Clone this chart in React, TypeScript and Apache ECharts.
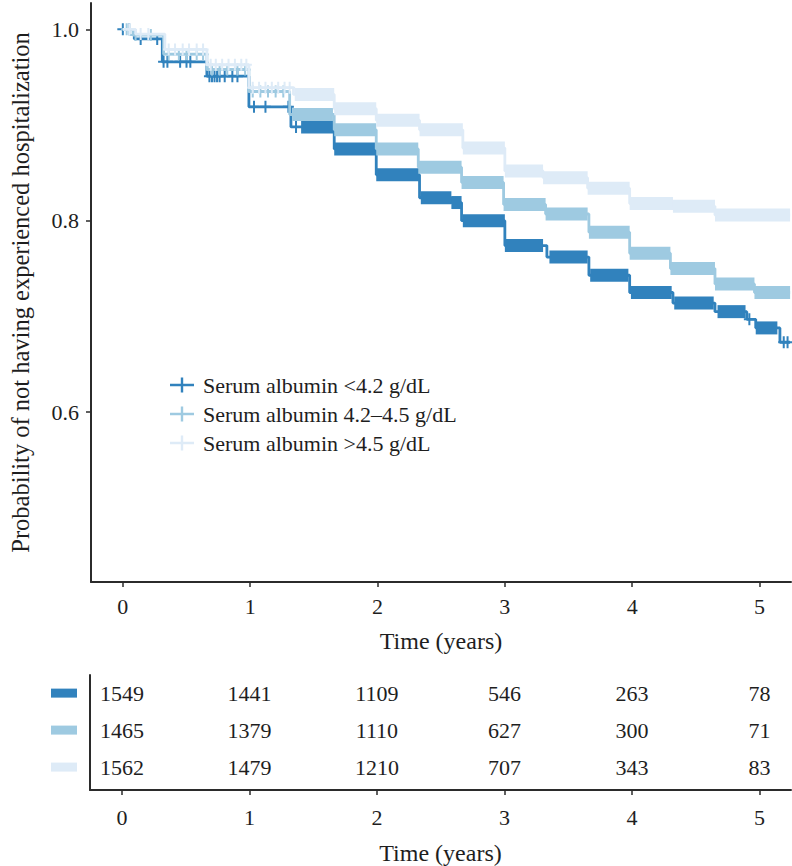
import { useEffect, useRef } from "react";
import * as echarts from "echarts";

const FONT = "'Liberation Serif', 'Times New Roman', serif";
const TEXT = "#1e1e1e";
const AXIS = "#2b2b2b";

const groupNames = ["Serum albumin <4.2 g/dL", "Serum albumin 4.2\u20134.5 g/dL", "Serum albumin >4.5 g/dL"];
const groupColors = ["#3182bd", "#9ecae1", "#deebf7"];
const END_TIME = 5.24;

// Kaplan-Meier step curves (time in years, survival probability)
const darkTimes = [0, 0.09, 0.31, 0.66, 0.99, 1.32, 1.66, 1.99, 2.33, 2.58, 2.66, 3.0, 3.33, 3.66, 3.98, 4.32, 4.65, 4.9, 4.97, 5.16];
const darkSurv = [1.0, 0.99, 0.966, 0.951, 0.919, 0.898, 0.875, 0.848, 0.824, 0.819, 0.8, 0.774, 0.762, 0.743, 0.725, 0.714, 0.705, 0.697, 0.688, 0.673];

const midTimes = [0, 0.08, 0.32, 0.66, 0.99, 1.31, 1.66, 1.99, 2.32, 2.66, 2.99, 3.32, 3.66, 3.98, 4.3, 4.65, 4.96];
const midSurv = [1.0, 0.994, 0.974, 0.958, 0.935, 0.911, 0.895, 0.875, 0.856, 0.84, 0.817, 0.807, 0.788, 0.766, 0.75, 0.734, 0.725];

const lightTimes = [0, 0.1, 0.33, 0.66, 0.99, 1.34, 1.66, 1.99, 2.33, 2.67, 3.0, 3.3, 3.65, 3.98, 4.32, 4.65];
const lightSurv = [1.0, 0.995, 0.979, 0.963, 0.939, 0.932, 0.917, 0.905, 0.895, 0.876, 0.852, 0.845, 0.834, 0.818, 0.815, 0.806];

// intervals of heavy censoring (marks overlap into a solid band)
const darkBands = [[1.4, 1.66], [1.66, 1.99], [1.99, 2.33], [2.34, 2.58], [2.58, 2.66], [2.67, 3.0], [3.0, 3.3], [3.35, 3.65], [3.67, 3.97], [3.99, 4.31], [4.33, 4.64], [4.67, 4.89], [4.97, 5.14]];
const midBands = [[1.33, 1.65], [1.66, 1.99], [1.99, 2.32], [2.32, 2.66], [2.66, 2.99], [2.99, 3.32], [3.32, 3.65], [3.66, 3.98], [3.98, 4.3], [4.3, 4.65], [4.65, 4.96], [4.96, 5.24]];
const lightBands = [[1.35, 1.66], [1.66, 1.99], [1.99, 2.33], [2.33, 2.67], [2.67, 3.0], [3.0, 3.3], [3.3, 3.65], [3.65, 3.98], [3.98, 4.32], [4.32, 4.65], [4.65, 5.24]];

// individual censoring marks (time)
const darkMarks = [0, 0.05, 0.14, 0.27, 0.32, 0.35, 0.45, 0.5, 0.53, 0.68, 0.7, 0.72, 0.74, 0.76, 0.8, 0.86, 0.9, 1.03, 1.12, 1.3, 1.36, 4.92, 5.19, 5.22];
const midMarks = [0.03, 0.1, 0.22, 0.36, 0.44, 0.5, 0.58, 0.63, 0.7, 0.76, 0.82, 0.9, 0.96, 1.02, 1.08, 1.14, 1.2, 1.26];
const lightMarks = [0.05, 0.14, 0.2, 0.36, 0.41, 0.47, 0.52, 0.58, 0.63, 0.69, 0.73, 0.78, 0.83, 0.88, 0.93, 0.97, 1.02, 1.07, 1.12, 1.17, 1.22, 1.27, 1.31];

// numbers at risk
const riskTimes = [0, 1, 2, 3, 4, 5];
const riskDark = [1549, 1441, 1109, 546, 263, 78];
const riskMid = [1465, 1379, 1110, 627, 300, 71];
const riskLight = [1562, 1479, 1210, 707, 343, 83];

const xTicks = [0, 1, 2, 3, 4, 5];
const yTicks = [0.6, 0.8, 1.0];

const groups = [
  { times: darkTimes, surv: darkSurv, bands: darkBands, marks: darkMarks, risk: riskDark, row: 3 },
  { times: midTimes, surv: midSurv, bands: midBands, marks: midMarks, risk: riskMid, row: 2 },
  { times: lightTimes, surv: lightSurv, bands: lightBands, marks: lightMarks, risk: riskLight, row: 1 },
];

function survAt(times: number[], surv: number[], t: number) {
  let s = surv[0];
  for (let i = 0; i < times.length; i++) {
    if (times[i] <= t + 1e-9) s = surv[i];
  }
  return s;
}

const PLUS = "path://M4.5,0H6.5V12H4.5Z M0,5H11V7H0Z";
const LEGEND_ICON = "path://M0,6.2H24V8.8H0Z M10.8,0H13.2V15H10.8Z";

export default function App() {
  const ref = useRef<HTMLDivElement>(null);

  useEffect(() => {
    if (!ref.current) return;
    const chart = echarts.init(ref.current, null, { renderer: "svg" });

    const series: any[] = [];
    groups.forEach((g, gi) => {
      const color = groupColors[gi];
      const lineData = g.times.map((t, i) => [t, g.surv[i]]);
      lineData.push([END_TIME, g.surv[g.surv.length - 1]]);
      series.push({
        type: "line",
        name: groupNames[gi],
        step: "end",
        xAxisIndex: 0,
        yAxisIndex: 0,
        data: lineData,
        showSymbol: false,
        symbol: "none",
        lineStyle: { color, width: 2.8 },
        itemStyle: { color },
        z: 2 + gi * 3,
      });
      series.push({
        type: "custom",
        xAxisIndex: 0,
        yAxisIndex: 0,
        data: g.bands.map((b) => [b[0], b[1], survAt(g.times, g.surv, (b[0] + b[1]) / 2)]),
        encode: { x: [0, 1], y: 2 },
        renderItem: (_p: any, api: any) => {
          const s = api.value(2);
          const p0 = api.coord([api.value(0), s]);
          const p1 = api.coord([api.value(1), s]);
          return {
            type: "rect",
            shape: { x: p0[0], y: p0[1] - 6.5, width: p1[0] - p0[0], height: 13 },
            style: { fill: color },
          };
        },
        silent: true,
        z: 3 + gi * 3,
      });
      series.push({
        type: "scatter",
        xAxisIndex: 0,
        yAxisIndex: 0,
        data: g.marks.map((t) => [t, survAt(g.times, g.surv, t)]),
        symbol: PLUS,
        symbolSize: [11, 12],
        itemStyle: { color, opacity: 1 },
        silent: true,
        z: 4 + gi * 3,
      });
      series.push({
        type: "scatter",
        xAxisIndex: 1,
        yAxisIndex: 1,
        data: riskTimes.map((t, i) => [t, g.row, g.risk[i]]),
        symbolSize: 0,
        silent: true,
        label: {
          show: true,
          position: "inside",
          formatter: (p: any) => String(p.value[2]),
          fontSize: 22,
          fontFamily: FONT,
          color: TEXT,
          textBorderWidth: 0,
          textBorderColor: "transparent",
          opacity: 1,
        },
      });
    });

    const axisLine = { show: true, onZero: false, lineStyle: { color: AXIS, width: 2 } };
    const xAxisBase = (gridIndex: number, margin: number, nameGap: number) => ({
      gridIndex,
      type: "value",
      min: -0.25,
      max: 5.247,
      axisLine,
      axisTick: { show: true, customValues: xTicks, length: 5, lineStyle: { color: AXIS, width: 1.5 } },
      axisLabel: {
        customValues: xTicks,
        fontSize: 22,
        fontFamily: FONT,
        color: TEXT,
        margin,
        formatter: (v: number) => String(v),
      },
      splitLine: { show: false },
      name: "Time (years)",
      nameLocation: "middle",
      nameGap,
      nameTextStyle: { fontSize: 24, fontFamily: FONT, color: TEXT },
    });

    const option: any = {
      animation: false,
      textStyle: { fontFamily: FONT },
      legend: {
        orient: "vertical",
        left: 165,
        top: 369,
        itemWidth: 24,
        itemHeight: 15,
        itemGap: 7,
        data: groupNames.map((n) => ({ name: n, icon: LEGEND_ICON })),
        textStyle: { fontSize: 22, fontFamily: FONT, color: TEXT, lineHeight: 22, padding: [0, 0, 0, 4] },
        selectedMode: false,
      },
      grid: [
        { left: 90, right: 1, top: 3, bottom: 284 },
        { left: 90, right: 1, top: 675, bottom: 76 },
      ],
      xAxis: [xAxisBase(0, 13, 47), xAxisBase(1, 16, 51)],
      yAxis: [
        {
          gridIndex: 0,
          type: "value",
          min: 0.4225,
          max: 1.0275,
          axisLine,
          axisTick: { show: true, customValues: yTicks, length: 5, lineStyle: { color: AXIS, width: 1.5 } },
          axisLabel: {
            customValues: yTicks,
            fontSize: 22,
            fontFamily: FONT,
            color: TEXT,
            margin: 12,
            formatter: (v: number) => v.toFixed(1),
          },
          splitLine: { show: false },
          name: "Probability of not having experienced hospitalization",
          nameLocation: "middle",
          nameGap: 58,
          nameTextStyle: { fontSize: 24.5, fontFamily: FONT, color: TEXT },
        },
        {
          gridIndex: 1,
          type: "value",
          min: 0.38,
          max: 3.49,
          axisLine,
          axisTick: { show: false },
          axisLabel: {
            customValues: [1, 2, 3],
            margin: 13,
            formatter: (v: number) => (v === 3 ? "{a|}" : v === 2 ? "{b|}" : "{c|}"),
            rich: {
              a: { width: 26, height: 9, backgroundColor: groupColors[0] },
              b: { width: 26, height: 9, backgroundColor: groupColors[1] },
              c: { width: 26, height: 9, backgroundColor: groupColors[2] },
            },
          },
          splitLine: { show: false },
        },
      ],
      series,
    };

    chart.setOption(option);
    return () => chart.dispose();
  }, []);

  return <div ref={ref} style={{ width: 792, height: 866, position: "absolute", left: 0, top: 0, background: "#fff" }} />;
}
